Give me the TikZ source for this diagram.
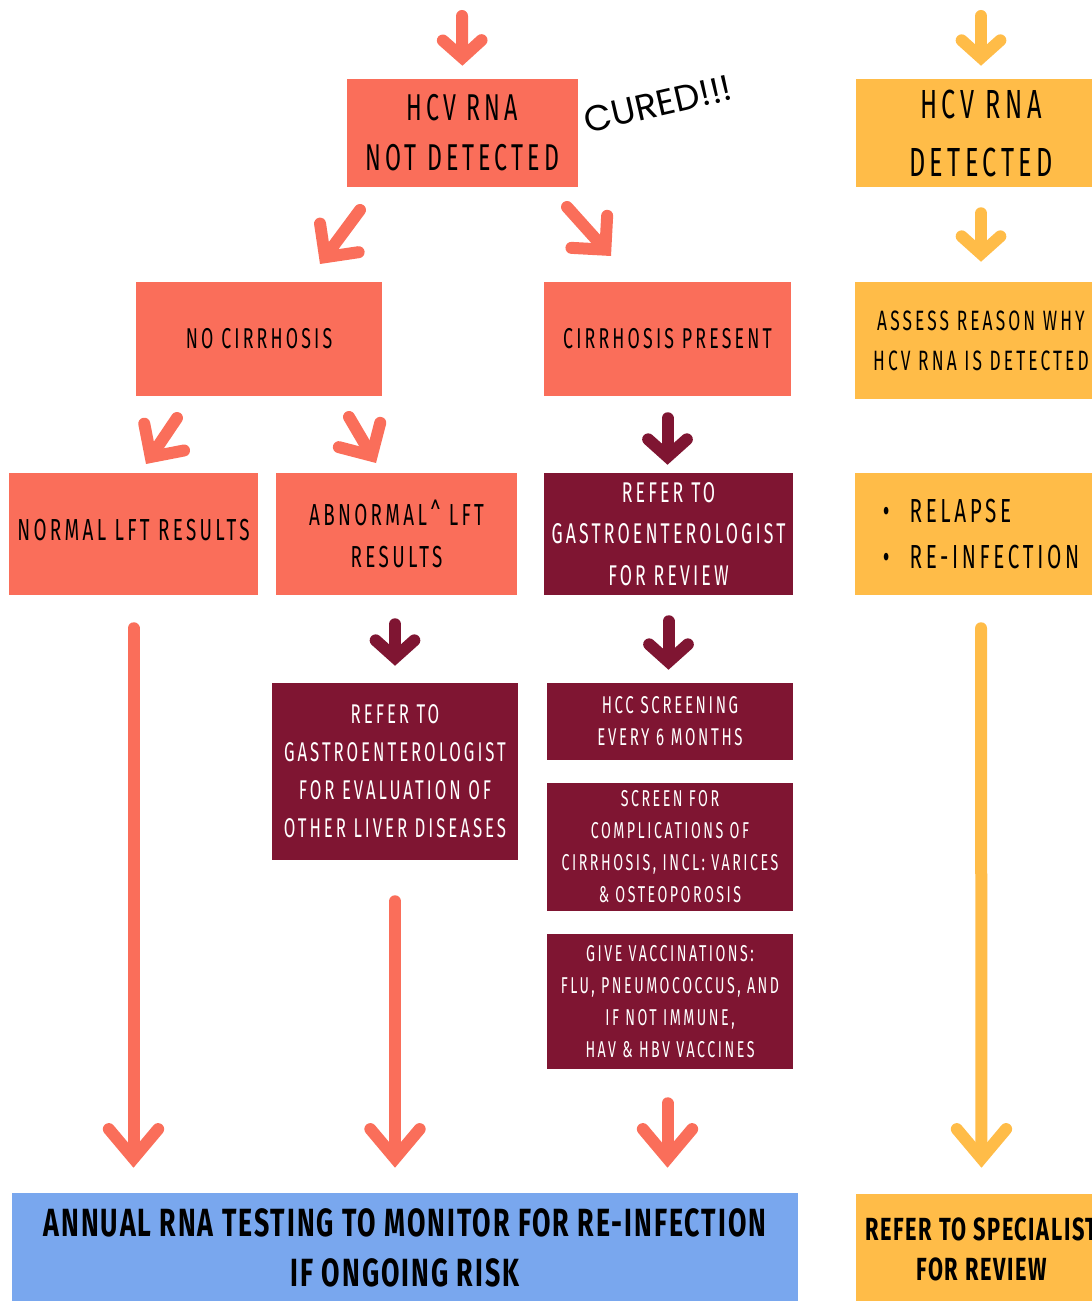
\documentclass[tikz,border=0pt]{standalone}
\usepackage{fontspec}
\usetikzlibrary{arrows.meta}
\newfontfamily\bebas[FakeStretch=0.62,LetterSpace=11]{Fira Sans}
\newfontfamily\bebasbold[FakeStretch=0.68,LetterSpace=5]{Fira Sans Bold}
\newfontfamily\cured{Poppins}
\newcommand\hcv[2]{\bebas\fontsize{#1}{#2}\selectfont}
\newcommand\hcvb[2]{\bebasbold\fontsize{#1}{#2}\selectfont}
\definecolor{salmon}{RGB}{250,110,90}
\definecolor{mustard}{RGB}{255,188,72}
\definecolor{wine}{RGB}{127,21,50}
\definecolor{sky}{RGB}{121,167,238}
\tikzset{
	box/.style 2 args={rectangle,inner sep=0pt,align=center,minimum width=#1*0.75pt,minimum height=#2*0.75pt},
	salbox/.style 2 args={box={#1}{#2},fill=salmon,text=black},
	yelbox/.style 2 args={box={#1}{#2},fill=mustard,text=black},
	winebox/.style 2 args={box={#1}{#2},fill=wine,text=white},
	skybox/.style 2 args={box={#1}{#2},fill=sky,text=black},
	arr/.style={line width=9pt,line cap=round,-{Straight Barb[length=13pt,width=29pt,line cap=round,line join=miter]}},
	diagarr/.style={line width=9pt,line cap=round,-{Straight Barb[length=18pt,width=36pt,line cap=round,line join=miter]}},
	bigarr/.style={line width=9pt,line cap=round,-{Straight Barb[length=22pt,width=37pt,line cap=round,line join=miter]}}
}
\begin{document}
\begin{tikzpicture}[x=0.75pt,y=-0.75pt]
	\useasboundingbox (0,0) rectangle (1091,1301);

	% first row
	\node [salbox={231}{108},font=\hcv{28}{37.5}] (notdet) at (462.5,133) {HCV RNA\\NOT DETECTED};
	\node [yelbox={251}{108},font=\hcv{30.5}{43.5}] (det) at (981,133) {HCV RNA\\DETECTED};
	\node [rotate=13,font=\cured\fontsize{27}{30}\selectfont] (cured) at (658,104) {CURED!!!};

	% second row
	\node [salbox={246}{114},font=\hcv{21.5}{30}] (nocirr) at (259,339) {NO CIRRHOSIS};
	\node [salbox={247}{114},font=\hcv{21.5}{30}] (cirr) at (667.5,339) {CIRRHOSIS PRESENT};
	\node [yelbox={252}{117},font=\hcv{21}{30}] (assess) at (981,340.5) {ASSESS REASON WHY\\HCV RNA IS DETECTED};

	% third row
	\node [salbox={249}{122},font=\hcv{22.8}{32}] (normal) at (133.5,534) {\raisebox{6.75pt}{NORMAL LFT RESULTS}};
	\node [salbox={241}{122},font=\hcv{22.8}{32}] (abnormal) at (396.5,534) {\raisebox{3.75pt}{\parbox{170pt}{\centering ABNORMAL\^{} LFT\\RESULTS}}};
	\node [winebox={249}{122},font=\hcv{21.4}{31}] (gastro) at (668.5,534) {REFER TO\\GASTROENTEROLOGIST\\FOR REVIEW};
	\node [yelbox={252}{122},font=\hcv{25}{34},align=left] (relapse) at (981,534) {\textbullet\hspace{0.6em}RELAPSE\\\textbullet\hspace{0.6em}RE-INFECTION};

	% fourth row
	\node [winebox={246}{177},font=\hcv{20.3}{28.5}] (gastrotwo) at (395,771.5) {REFER TO\\GASTROENTEROLOGIST\\FOR EVALUATION OF\\OTHER LIVER DISEASES};
	\node [winebox={246}{77},font=\hcv{18.2}{24}] (hcc) at (670,721.5) {HCC SCREENING\\EVERY 6 MONTHS};
	\node [winebox={246}{128},font=\hcv{17.2}{24}] (compl) at (670,847) {SCREEN FOR\\COMPLICATIONS OF\\CIRRHOSIS, INCL: VARICES\\\& OSTEOPOROSIS};
	\node [winebox={246}{135},font=\hcv{17.2}{24}] (vacc) at (670,1001.5) {GIVE VACCINATIONS:\\FLU, PNEUMOCOCCUS, AND\\IF NOT IMMUNE,\\HAV \& HBV VACCINES};

	% last row
	\node [skybox={786}{110},font=\hcvb{29.5}{38}] (annual) at (405,1248) {ANNUAL RNA TESTING TO MONITOR FOR RE-INFECTION\\IF ONGOING RISK};
	\node [yelbox={251}{110},font=\hcvb{24}{30}] (special) at (981.5,1249) {REFER TO SPECIALIST\\FOR REVIEW};

	% free ends
	\coordinate (topl) at (462,16);
	\coordinate (topr) at (981,16);
	\coordinate (dl1) at (360,210);
	\coordinate (dl2) at (320,264);
	\coordinate (dr1) at (567,207);
	\coordinate (dr2) at (611,256);
	\coordinate (nl1) at (177,418);
	\coordinate (nl2) at (146,464);
	\coordinate (nr1) at (349,417);
	\coordinate (nr2) at (376,463);

	% arrows
	\draw [arr,salmon,shorten >=9.75pt] (topl) -- (notdet.north);
	\draw [arr,mustard,shorten >=9.75pt] (topr) -- (det.north);
	\draw [arr,mustard,shorten <=19.5pt,shorten >=15pt] (det.south) -- (assess.north);
	\draw [diagarr,salmon] (dl1) -- (dl2);
	\draw [diagarr,salmon] (dr1) -- (dr2);
	\draw [diagarr,salmon] (nl1) -- (nl2);
	\draw [diagarr,salmon] (nr1) -- (nr2);
	\draw [arr,wine,shorten <=16.5pt,shorten >=6pt] (cirr.south) -- (cirr.south |- gastro.north);
	\draw [arr,wine,shorten <=21.75pt,shorten >=12.75pt] (gastrotwo.north |- abnormal.south) -- (gastrotwo.north);
	\draw [arr,wine,shorten <=19.5pt,shorten >=9.75pt] (gastro.south) -- (gastro.south |- hcc.north);
	\draw [bigarr,salmon,shorten <=24.75pt,shorten >=18.75pt] (normal.south) -- (normal.south |- annual.north);
	\draw [bigarr,salmon,shorten <=30.75pt,shorten >=18.75pt] (gastrotwo.south) -- (gastrotwo.south |- annual.north);
	\draw [bigarr,salmon,shorten <=25.5pt,shorten >=18.75pt] (cirr.south |- vacc.south) -- (cirr.south |- annual.north);
	\draw [bigarr,mustard,shorten <=24.75pt,shorten >=19.5pt] (relapse.south) -- (special.north);
\end{tikzpicture}
\end{document}
